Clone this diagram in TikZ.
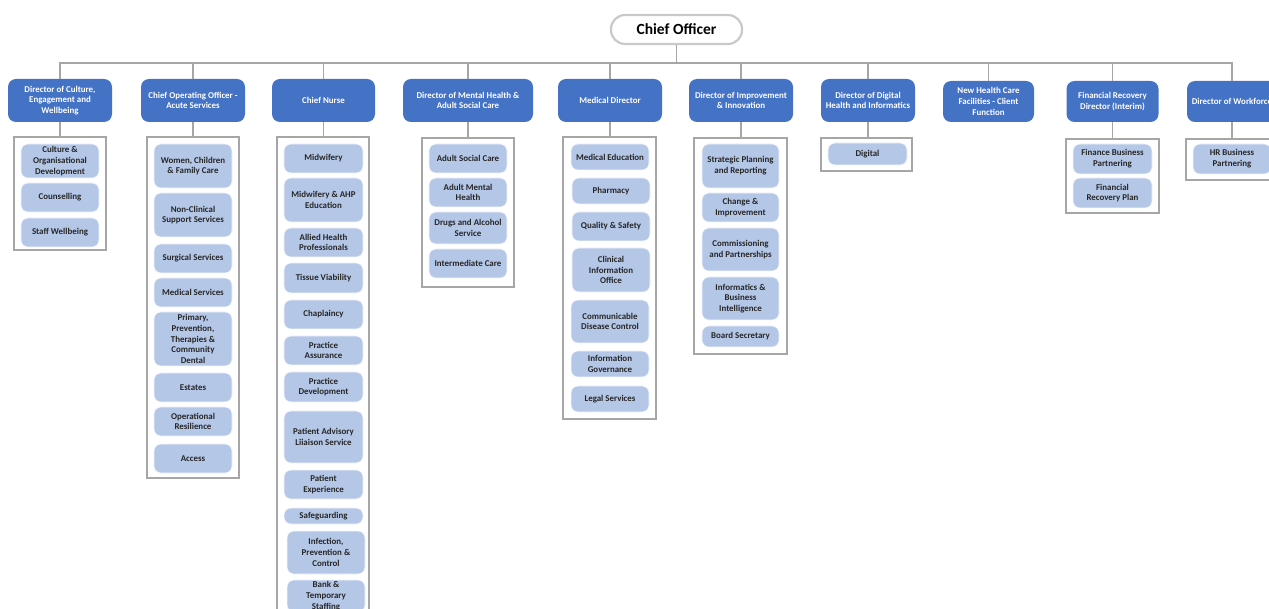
\documentclass[tikz,border=0pt]{standalone}
\usepackage{fontspec}
\setmainfont{Carlito}
\usetikzlibrary{positioning}

\definecolor{dirblue}{HTML}{4472C4}
\definecolor{unitblue}{HTML}{B4C7E7}
\definecolor{linegray}{HTML}{A6A6A6}
\definecolor{topgray}{HTML}{C9C9C9}

\begin{document}
\begin{tikzpicture}[x=1pt, y=-1pt,
% Node styles
 top/.style={draw=topgray, line width=2.2pt, fill=white, rounded corners=14pt,
 minimum width=131pt, minimum height=29pt, inner sep=0pt,
 font=\fontsize{15.5}{17}\selectfont\bfseries},
 dir/.style={fill=dirblue, text=white, rounded corners=8pt, align=center,
 minimum height=43pt, inner sep=0pt, font=\fontsize{8.9}{10.7}\selectfont\bfseries},
 group/.style={draw=linegray, line width=1.4pt, inner sep=0pt},
 unit/.style={fill=unitblue, draw=white!85!unitblue, line width=0.6pt, rounded corners=7pt,
 align=center, minimum width=78pt, inner sep=0pt, text=black!85,
 font=\fontsize{8.9}{10.8}\selectfont\bfseries},
% Edge styles
 link/.style={draw=linegray, line width=1.4pt}
]
\clip (0,0) rectangle (1269,609);
\useasboundingbox (0,0) rectangle (1269,609);

\node[top] (chief) at (676.5,29.5) {Chief Officer};
\coordinate (bus) at (676.5,63);

% Directors
\node[dir, minimum width=104pt] (culture) at (60,100.5) {Director of Culture,\\Engagement and\\Wellbeing};
\node[dir, minimum width=104pt] (coo) at (193,100.5) {Chief Operating Officer -\\Acute Services};
\node[dir, minimum width=103pt] (nurse) at (323.5,100.5) {Chief Nurse};
\node[dir, minimum width=130pt] (mental) at (468,100.5) {Director of Mental Health \&\\Adult Social Care};
\node[dir, minimum width=104pt] (medical) at (610,100.5) {Medical Director};
\node[dir, minimum width=104pt] (improve) at (741,100.5) {Director of Improvement\\\& Innovation};
\node[dir, minimum width=94pt] (digital) at (868,100.5) {Director of Digital\\Health and Informatics};
\node[dir, minimum width=91pt, minimum height=41pt] (facility) at (988.5,101.5) {New Health Care\\Facilities - Client\\Function};
\node[dir, minimum width=92pt, minimum height=41pt] (finance) at (1112.5,101.5) {Financial Recovery\\Director (Interim)};
\node[dir, minimum width=90pt, minimum height=41pt] (workforce) at (1232,101.5) {Director of Workforce};

% Frames
\node[group, minimum width=92pt, minimum height=113pt] (cultureF) at (60,193.5) {};
\node[group, minimum width=92pt, minimum height=341pt] (cooF) at (193,307.5) {};
\node[group, minimum width=92pt, minimum height=483pt] (nurseF) at (323,378.5) {};
\node[group, minimum width=92pt, minimum height=149pt] (mentalF) at (468,212.5) {};
\node[group, minimum width=93pt, minimum height=282pt] (medicalF) at (609.5,278) {};
\node[group, minimum width=93pt, minimum height=216pt] (improveF) at (740.5,246) {};
\node[group, minimum width=91pt, minimum height=33pt] (digitalF) at (866.5,154.5) {};
\node[group, minimum width=93pt, minimum height=74pt] (financeF) at (1112.5,176) {};
\node[group, minimum width=92pt, minimum height=41pt] (workforceF) at (1232,159.5) {};

% Culture
\node[unit, minimum height=34pt] (cul1) at (60,161) {Culture \&\\Organisational\\Development};
\node[unit, minimum height=29pt] (cul2) at (60,197.5) {Counselling};
\node[unit, minimum height=29pt] (cul3) at (60,232.5) {Staff Wellbeing};

% Acute services
\node[unit, minimum height=44pt] (coo1) at (193,166) {Women, Children\\\& Family Care};
\node[unit, minimum height=44pt] (coo2) at (193,215) {Non-Clinical\\Support Services};
\node[unit, minimum height=29pt] (coo3) at (193,258.5) {Surgical Services};
\node[unit, minimum height=29pt] (coo4) at (193,292.5) {Medical Services};
\node[unit, minimum height=54pt] (coo5) at (193,339) {Primary,\\Prevention,\\Therapies \&\\Community\\Dental};
\node[unit, minimum height=29pt] (coo6) at (193,387.5) {Estates};
\node[unit, minimum height=29pt] (coo7) at (193,421.5) {Operational\\Resilience};
\node[unit, minimum height=29pt] (coo8) at (193,458.5) {Access};

% Nursing
\node[unit, minimum width=79pt, minimum height=29pt] (nur1) at (323.5,158.5) {Midwifery};
\node[unit, minimum width=79pt, minimum height=44pt] (nur2) at (323.5,200) {Midwifery \& AHP\\Education};
\node[unit, minimum width=79pt, minimum height=29pt] (nur3) at (323.5,242.5) {Allied Health\\Professionals};
\node[unit, minimum width=79pt, minimum height=30pt] (nur4) at (323.5,278) {Tissue Viability};
\node[unit, minimum width=79pt, minimum height=29pt] (nur5) at (323.5,314.5) {Chaplaincy};
\node[unit, minimum width=79pt, minimum height=29pt] (nur6) at (323.5,350.5) {Practice\\Assurance};
\node[unit, minimum width=79pt, minimum height=30pt] (nur7) at (323.5,387) {Practice\\Development};
\node[unit, minimum width=79pt, minimum height=52pt] (nur8) at (323.5,437) {Patient Advisory\\Liiaison Service};
\node[unit, minimum width=79pt, minimum height=29pt] (nur9) at (323.5,484.5) {Patient\\Experience};
\node[unit, minimum width=79pt, minimum height=16pt] (nur10) at (323.5,516) {Safeguarding};
\node[unit, minimum height=43pt] (nur11) at (326,552.5) {Infection,\\Prevention \&\\Control};
\node[unit, minimum height=32pt] (nur12) at (326,596) {Bank \&\\Temporary\\Staffing};

% Mental health
\node[unit, minimum height=29pt] (men1) at (468,158.5) {Adult Social Care};
\node[unit, minimum height=29pt] (men2) at (468,192.5) {Adult Mental\\Health};
\node[unit, minimum height=32pt] (men3) at (468,228) {Drugs and Alcohol\\Service};
\node[unit, minimum height=29pt] (men4) at (468,263.5) {Intermediate Care};

% Medical
\node[unit, minimum height=26pt] (med1) at (610,157) {Medical Education};
\node[unit, minimum height=26pt] (med2) at (611,191) {Pharmacy};
\node[unit, minimum height=29pt] (med3) at (611,226.5) {Quality \& Safety};
\node[unit, minimum height=44pt] (med4) at (611,270) {Clinical\\Information\\Office};
\node[unit, minimum height=43pt] (med5) at (610,321.5) {Communicable\\Disease Control};
\node[unit, minimum height=26pt] (med6) at (610,364) {Information\\Governance};
\node[unit, minimum height=26pt] (med7) at (610,399) {Legal Services};

% Improvement
\node[unit, minimum width=77pt, minimum height=44pt] (imp1) at (740.5,166) {Strategic Planning\\and Reporting};
\node[unit, minimum width=77pt, minimum height=29pt] (imp2) at (740.5,207.5) {Change \&\\Improvement};
\node[unit, minimum width=77pt, minimum height=43pt] (imp3) at (740.5,249.5) {Commissioning\\and Partnerships};
\node[unit, minimum width=77pt, minimum height=43pt] (imp4) at (740.5,298.5) {Informatics \&\\Business\\Intelligence};
\node[unit, minimum width=77pt, minimum height=21pt] (imp5) at (740.5,336.5) {Board Secretary};

% Digital, finance, workforce
\node[unit, minimum width=79pt, minimum height=22pt] (dig1) at (867.5,154) {Digital};
\node[unit, minimum width=79pt, minimum height=30pt] (fin1) at (1112.5,159) {Finance Business\\Partnering};
\node[unit, minimum width=79pt, minimum height=30pt] (fin2) at (1112.5,193) {Financial\\Recovery Plan};
\node[unit, minimum height=30pt] (wor1) at (1232,159) {HR Business\\Partnering};

% Connectors
\draw[link] (chief) -- (bus);
\draw[link] (bus) -| (culture);
\draw[link] (bus) -| (coo);
\draw[link] (bus) -| (nurse);
\draw[link] (bus) -| (mental);
\draw[link] (bus) -| (medical);
\draw[link] (bus) -| (improve);
\draw[link] (bus) -| (digital);
\draw[link] (bus) -| (facility);
\draw[link] (bus) -| (finance);
\draw[link] (bus) -| (workforce);

\draw[link] (culture.south) -- (culture.south |- cultureF.north);
\draw[link] (coo.south) -- (coo.south |- cooF.north);
\draw[link] (nurse.south) -- (nurse.south |- nurseF.north);
\draw[link] (mental.south) -- (mental.south |- mentalF.north);
\draw[link] (medical.south) -- (medical.south |- medicalF.north);
\draw[link] (improve.south) -- (improve.south |- improveF.north);
\draw[link] (digital.south) -- (digital.south |- digitalF.north);
\draw[link] (finance.south) -- (finance.south |- financeF.north);
\draw[link] (workforce.south) -- (workforce.south |- workforceF.north);

\end{tikzpicture}
\end{document}
